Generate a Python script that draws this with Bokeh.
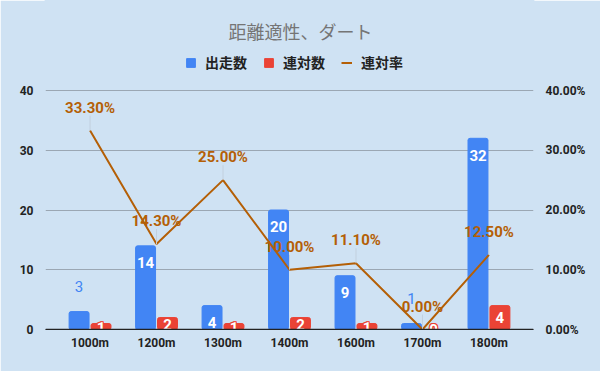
from bokeh.plotting import figure
from bokeh.models import (Range1d, LinearAxis, NumeralTickFormatter, Legend, LegendItem,
                          FixedTicker, Span)
from bokeh.core.properties import value
from bokeh.embed import file_html
from bokeh.resources import INLINE

categories = ["1000m", "1200m", "1300m", "1400m", "1600m", "1700m", "1800m"]
starts = [3, 14, 4, 20, 9, 1, 32]          # 出走数
top2 = [1, 2, 1, 2, 1, 0, 4]               # 連対数
top2_rate = [0.333, 0.143, 0.25, 0.10, 0.111, 0.0, 0.125]  # 連対率
left_ticks = [0, 10, 20, 30, 40]
right_ticks = [0.0, 0.1, 0.2, 0.3, 0.4]
series_names = ["出走数", "連対数", "連対率"]
title_text = "距離適性、ダート"

BLUE = "#4285f4"
RED = "#ea4335"
ORANGE = "#b45f06"
BG = "#cfe2f3"
FONT = "Roboto, Noto Sans CJK JP"

# layout: frame spans page y 0..329, value 40 sits at y=90 -> top of range above 40 holds title/legend
Y_TOP = 40 * 329 / 239

xs = list(range(len(categories)))
bx = [x - 0.165 for x in xs]
rx = [x + 0.165 for x in xs]

p = figure(width=600, height=371, output_backend="svg", toolbar_location=None,
           x_range=Range1d(-0.67, 6.67), y_range=Range1d(0, Y_TOP),
           min_border_left=45, min_border_right=67, min_border_top=0, min_border_bottom=42,
           background_fill_color=BG, border_fill_color=BG,
           outline_line_color=BG, outline_line_width=2)

p.extra_y_ranges = {"pct": Range1d(0, Y_TOP / 100)}

p.xaxis.ticker = FixedTicker(ticks=xs)
p.xaxis.major_label_overrides = {i: c for i, c in enumerate(categories)}
p.yaxis.ticker = FixedTicker(ticks=left_ticks)
raxis = LinearAxis(y_range_name="pct", ticker=FixedTicker(ticks=right_ticks),
                   formatter=NumeralTickFormatter(format="0.00%"))
p.add_layout(raxis, "right")
for ax in [p.xaxis[0], p.yaxis[0], raxis]:
    ax.major_tick_line_color = None
    ax.minor_tick_line_color = None
    ax.major_label_text_font = FONT
    ax.major_label_text_font_size = "12px"
    ax.major_label_text_font_style = "bold"
    ax.major_label_text_color = "#222222"
    ax.major_label_standoff = 6
p.yaxis[0].axis_line_color = None
raxis.axis_line_color = None
p.xaxis.axis_line_color = "#222222"
p.xaxis.major_label_standoff = 0

p.xgrid.grid_line_color = None
p.ygrid.ticker = FixedTicker(ticks=left_ticks[1:])
p.ygrid.grid_line_color = "#9ba7b3"

r_blue = p.vbar(x=bx, top=starts, width=0.30, color=BLUE, border_radius=2)
r_red = p.vbar(x=rx, top=top2, width=0.30, color=RED, border_radius=2)
r_line = p.line(xs, top2_rate, y_range_name="pct", color=ORANGE, line_width=2)

# baseline on top of everything
p.add_layout(Span(location=0, dimension="width", line_color="#222222", line_width=1.5, level="overlay"))

# leader lines for line labels
p.segment(x0=xs, y0=[r * 100 for r in top2_rate], x1=xs,
          y1=[r * 100 + 2.5 for r in top2_rate], line_color="#c2d0de", line_width=1)

# blue bar labels
in_x = [x for x, v in zip(bx, starts) if v >= 4]
in_y = [v - 2.8 for v in starts if v >= 4]
in_t = [str(v) for v in starts if v >= 4]
out_x = [x for x, v in zip(bx, starts) if v < 4]
out_y = [v + 4.2 for v in starts if v < 4]
out_t = [str(v) for v in starts if v < 4]
p.text(x=in_x, y=in_y, text=in_t, text_color="white", text_font=value(FONT),
       text_font_size="15px", text_font_style="bold", text_align="center", text_baseline="middle")
p.text(x=out_x, y=out_y, text=out_t, text_color=BLUE, text_font=value(FONT),
       text_font_size="15px", text_align="center", text_baseline="middle")

# red bar labels (white with red outline)
ry = [max(v - 2, 0.4 * v) for v in top2]
rt = [str(v) for v in top2]
for dx, dy in [(-1, -1), (0, -1), (1, -1), (-1, 0), (1, 0), (-1, 1), (0, 1), (1, 1)]:
    p.text(x=rx, y=ry, text=rt, text_color=RED, text_font=value(FONT), x_offset=dx, y_offset=dy,
           text_font_size="15px", text_font_style="bold", text_align="center", text_baseline="middle")
p.text(x=rx, y=ry, text=rt, text_color="white", text_font=value(FONT),
       text_font_size="15px", text_font_style="bold", text_align="center", text_baseline="middle")

# rate labels
p.text(x=xs, y=[r * 100 + 3.8 for r in top2_rate], text=[f"{r * 100:.2f}%" for r in top2_rate],
       text_color=ORANGE, text_font=value(FONT), text_font_size="15px", text_font_style="bold",
       text_align="center", text_baseline="middle")

# title (page x 300, y 30)
p.text(x=[-0.67 + (300 - 45) / 66.5], y=[Y_TOP * (329 - 30) / 329], text=[title_text],
       text_font=value("Noto Sans CJK JP"), text_font_size="18px", text_color="#757575",
       text_align="center", text_baseline="middle")

legend = Legend(items=[LegendItem(label=series_names[0], renderers=[r_blue]),
                       LegendItem(label=series_names[1], renderers=[r_red]),
                       LegendItem(label=series_names[2], renderers=[r_line])],
                orientation="horizontal", location=(140, 257),
                background_fill_alpha=0, border_line_color=None,
                label_text_font="Noto Sans CJK JP", label_text_font_size="14px",
                label_text_font_style="bold", label_text_color="#222222",
                glyph_width=11, glyph_height=11, label_standoff=9, spacing=16,
                padding=0, margin=0)
p.add_layout(legend, "center")

html = file_html(p, INLINE)
html = html.replace("<body>", '<body style="background-color:#cfe2f3;">', 1)
open("out.html", "w").write(html)
